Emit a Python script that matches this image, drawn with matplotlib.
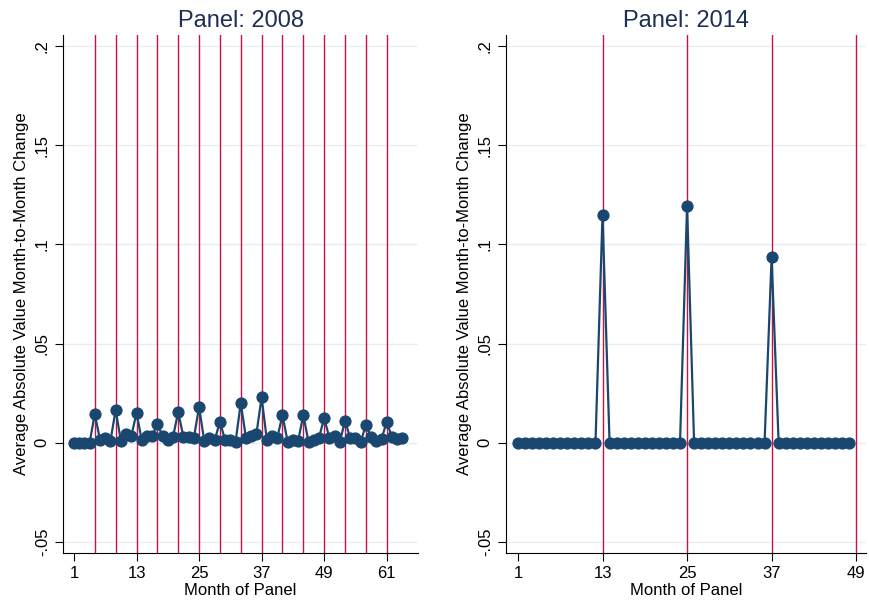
import matplotlib
matplotlib.use("Agg")
import matplotlib.pyplot as plt
import numpy as np

plt.rcParams['font.family'] = ['Liberation Sans', 'DejaVu Sans']

## data: panel 2008 (months 1..64)
months_2008 = list(range(1, 65))
change_2008 = [0.0, 0.0, 0.0, 0.0, 0.0146, 0.0015, 0.0025, 0.001,
               0.0166, 0.001, 0.0045, 0.0035, 0.015, 0.0015, 0.0035, 0.0035,
               0.0095, 0.0035, 0.0015, 0.003, 0.0155, 0.003, 0.003, 0.0025,
               0.018, 0.001, 0.0025, 0.0015, 0.0105, 0.0015, 0.0015, 0.0005,
               0.020, 0.0025, 0.0035, 0.0045, 0.023, 0.0015, 0.0035, 0.0025,
               0.014, 0.0005, 0.0015, 0.001, 0.014, 0.0005, 0.0015, 0.0025,
               0.0125, 0.0025, 0.0035, 0.0005, 0.011, 0.0025, 0.0025, 0.0005,
               0.009, 0.003, 0.001, 0.002, 0.0105, 0.003, 0.002, 0.0025]
vlines_2008 = list(range(5, 62, 4))
xticks_2008 = [1, 13, 25, 37, 49, 61]

## data: panel 2014 (months 1..48)
months_2014 = list(range(1, 49))
change_2014 = [0.0] * 48
change_2014[12] = 0.115
change_2014[24] = 0.1195
change_2014[36] = 0.0935
vlines_2014 = [13, 25, 37, 49]
xticks_2014 = [1, 13, 25, 37, 49]

yticks = [-0.05, 0, 0.05, 0.1, 0.15, 0.2]
ytick_labels = ['-.05', '0', '.05', '.1', '.15', '.2']

navy = '#1a476f'
red = '#cc1142'
title_col = '#1e2f55'

fig = plt.figure(figsize=(8.7, 6.04), dpi=100)
W, H = 870, 604

def make_ax(left, right, top, bottom):
    return fig.add_axes([left / W, 1 - bottom / H, (right - left) / W, (bottom - top) / H])

ax1 = make_ax(63, 418, 35, 553)
ax2 = make_ax(506, 866, 35, 553)

panels = [
    (ax1, months_2008, change_2008, vlines_2008, xticks_2008, (-1.1, 67.0), 'Panel: 2008'),
    (ax2, months_2014, change_2014, vlines_2014, xticks_2014, (-0.7, 50.4), 'Panel: 2014'),
]

for ax, mo, val, vl, xt, xlim, title in panels:
    for y in yticks:
        ax.axhline(y, color='#e6eef0', lw=1, zorder=0)
    for v in vl:
        ax.axvline(v, color=red, lw=1.0, zorder=1)
    ax.plot(mo, val, '-', color=navy, lw=1.6, marker='o', ms=7.8, zorder=3)
    ax.set_xlim(*xlim)
    ax.set_ylim(-0.0555, 0.2055)
    ax.set_xticks(xt)
    ax.set_yticks(yticks)
    ax.set_yticklabels(ytick_labels, rotation=90, va='center')
    ax.tick_params(labelsize=12, length=6, direction='out')
    ax.spines['top'].set_visible(False)
    ax.spines['right'].set_visible(False)
    ax.set_xlabel('Month of Panel', fontsize=12, labelpad=1)
    ax.set_ylabel('Average Absolute Value Month-to-Month Change', fontsize=12, labelpad=4)
    ax.set_title(title, fontsize=17, color=title_col, pad=6)

plt.savefig('out.png', dpi=100)
